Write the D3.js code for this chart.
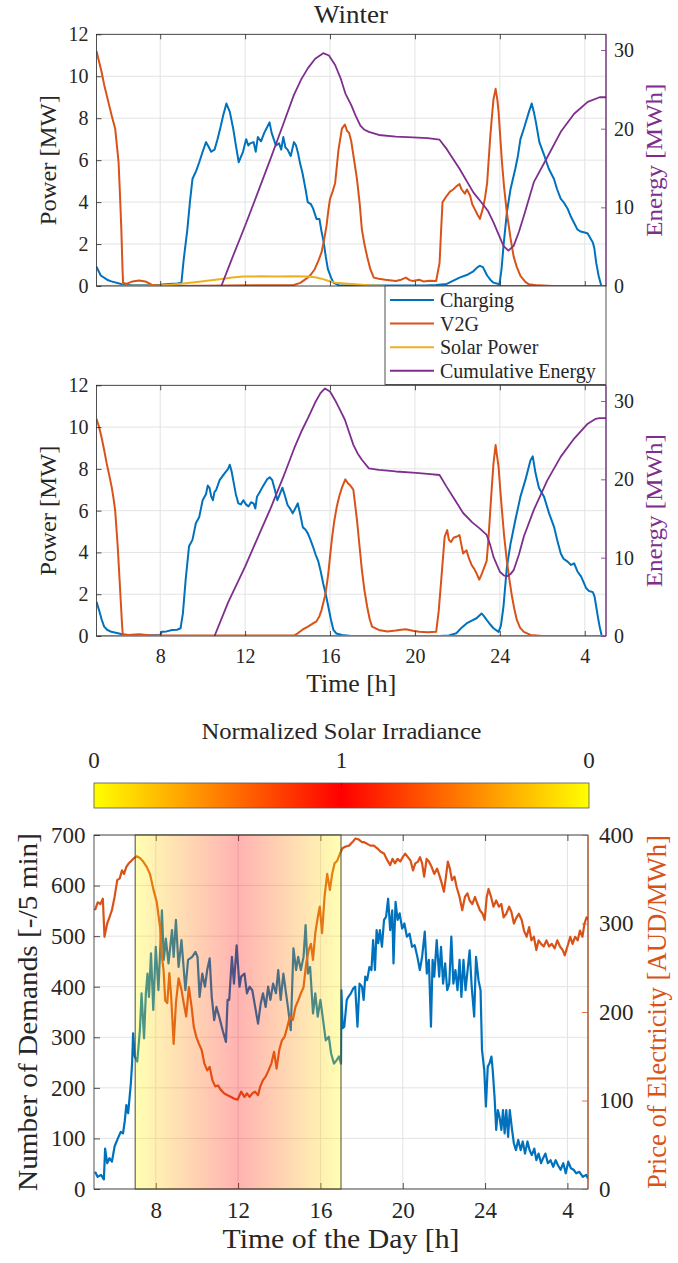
<!DOCTYPE html>
<html>
<head>
<meta charset="utf-8">
<script src="https://cdn.jsdelivr.net/npm/d3@7"></script>
<style>
  body { margin: 0; background: #fff; }
  text { font-family: "Liberation Serif", "DejaVu Serif", serif; fill: #262626; }
</style>
</head>
<body>
<div id="chart"></div>
<script>
// ---- data (hour of day, 5 -> 29 means 5:00 to 5:00 next day) ----
const hourTicks = [8, 12, 16, 20, 24, 28];
const powerTicks = [0, 2, 4, 6, 8, 10, 12];
const energyTicks = [0, 10, 20, 30];
const demandTicks = [0, 100, 200, 300, 400, 500, 600, 700];
const priceTicks = [0, 100, 200, 300, 400];

const legendNames = ["Charging", "V2G", "Solar Power", "Cumulative Energy"];

// top panel (Winter)
const charging1 = [[5.0,0.92],[5.2,0.5],[5.5,0.3],[5.7,0.22],[6.2,0.08],[6.6,0.05],[7.5,0.04],[8.0,0.06],[8.4,0.1],[8.8,0.12],[9.0,0.15],[9.1,1.2],[9.28,2.7],[9.4,4.0],[9.52,5.1],[9.7,5.5],[9.84,5.9],[10.0,6.4],[10.16,6.86],[10.3,6.6],[10.4,6.4],[10.56,6.5],[10.7,7.0],[10.85,7.6],[10.96,8.1],[11.12,8.7],[11.28,8.3],[11.44,7.5],[11.55,6.8],[11.7,5.9],[11.9,6.4],[12.05,7.0],[12.15,6.7],[12.24,6.8],[12.4,6.86],[12.5,6.4],[12.6,7.1],[12.75,6.9],[12.9,7.3],[13.0,7.5],[13.15,7.8],[13.25,7.3],[13.35,7.0],[13.45,6.7],[13.6,6.8],[13.7,6.5],[13.8,7.1],[13.9,6.6],[14.0,6.5],[14.15,6.2],[14.3,6.86],[14.4,6.7],[14.5,6.3],[14.6,5.8],[14.7,5.4],[14.85,4.6],[14.95,4.0],[15.1,3.9],[15.2,3.7],[15.36,3.2],[15.5,3.2],[15.6,2.6],[15.7,2.1],[15.8,1.4],[15.9,0.8],[16.05,0.4],[16.16,0.16],[16.4,0.04],[17,0.02],[20.5,0.02],[21.0,0.05],[21.5,0.1],[22.1,0.4],[22.5,0.55],[22.75,0.7],[22.95,0.9],[23.06,0.96],[23.2,0.9],[23.3,0.7],[23.4,0.5],[23.55,0.3],[23.7,0.16],[23.98,0.08],[24.08,0.8],[24.17,1.9],[24.33,3.5],[24.5,4.6],[24.73,5.6],[24.85,6.2],[24.97,7.0],[25.13,7.5],[25.25,7.9],[25.37,8.3],[25.5,8.7],[25.6,8.3],[25.7,7.8],[25.86,6.86],[26.1,6.2],[26.3,5.6],[26.55,5.1],[26.7,4.6],[26.87,4.15],[27.0,4.0],[27.2,3.67],[27.35,3.3],[27.5,3.0],[27.65,2.7],[27.8,2.6],[28.0,2.55],[28.14,2.5],[28.25,2.3],[28.38,2.07],[28.45,1.8],[28.54,1.1],[28.65,0.5],[28.78,0],[29,0]];
const v2g1 = [[5.0,11.2],[5.12,10.7],[5.24,10.2],[5.36,9.6],[5.48,9.1],[5.6,8.6],[5.72,8.1],[5.88,7.5],[5.96,6.7],[6.04,5.9],[6.1,4.5],[6.17,2.7],[6.22,1.0],[6.25,0.16],[6.4,0.1],[6.7,0.22],[7.0,0.26],[7.3,0.22],[7.6,0.06],[7.8,0.03],[8.5,0.0],[14.3,0.05],[14.6,0.15],[14.95,0.4],[15.1,0.55],[15.28,0.8],[15.45,1.2],[15.6,1.6],[15.72,2.2],[15.84,2.9],[15.92,3.6],[16.0,4.15],[16.12,4.5],[16.24,4.9],[16.32,5.7],[16.4,6.5],[16.48,7.0],[16.56,7.5],[16.7,7.7],[16.8,7.4],[16.9,7.3],[17.0,6.9],[17.15,5.9],[17.27,5.1],[17.4,3.9],[17.5,2.7],[17.62,2.0],[17.75,1.4],[17.9,0.8],[18.06,0.4],[18.3,0.35],[18.6,0.3],[19.1,0.24],[19.35,0.3],[19.57,0.4],[19.75,0.28],[19.9,0.24],[20.2,0.3],[20.4,0.22],[20.7,0.25],[21.0,0.24],[21.16,1.1],[21.23,2.6],[21.3,4.0],[21.5,4.3],[21.65,4.5],[21.8,4.6],[21.95,4.75],[22.1,4.86],[22.2,4.6],[22.35,4.4],[22.45,4.6],[22.6,4.3],[22.7,3.9],[22.8,3.7],[22.95,3.4],[23.06,3.2],[23.2,3.7],[23.3,4.2],[23.4,4.9],[23.54,7.0],[23.62,8.0],[23.7,8.9],[23.8,9.4],[23.88,8.9],[23.94,8.3],[24.02,7.1],[24.1,5.9],[24.2,4.7],[24.33,3.5],[24.5,2.3],[24.65,1.4],[24.8,0.9],[24.97,0.48],[25.2,0.2],[25.37,0.08],[25.8,0.03],[26.5,0],[29,0]];
const solar1 = [[5,0],[8,0.02],[8.5,0.06],[8.9,0.1],[9.4,0.15],[9.84,0.2],[10.3,0.26],[10.8,0.32],[11.4,0.4],[11.9,0.45],[12.7,0.46],[13.5,0.45],[14.3,0.46],[14.95,0.45],[15.3,0.42],[15.6,0.35],[15.9,0.25],[16.24,0.16],[16.7,0.12],[17.2,0.08],[17.8,0.04],[18.5,0.01],[19,0],[29,0]];
const energy1 = [[10.88,0],[11.4,3.6],[12.0,7.66],[12.6,11.9],[13.2,16.2],[13.8,20.6],[14.3,24.3],[14.65,26.3],[14.96,27.7],[15.3,28.9],[15.68,29.6],[15.95,29.3],[16.24,28.1],[16.5,26.4],[16.72,24.5],[17.0,23.0],[17.2,21.7],[17.43,20.4],[17.6,19.9],[17.83,19.6],[18.3,19.2],[19.1,19.0],[19.9,18.9],[20.6,18.8],[21.16,18.6],[21.5,17.4],[22.1,14.9],[22.75,11.9],[23.2,10.4],[23.45,9.5],[23.7,8.1],[23.95,6.5],[24.17,5.1],[24.4,4.5],[24.65,5.1],[24.9,6.9],[25.13,8.9],[25.6,13.2],[26.24,16.4],[26.87,19.6],[27.5,21.9],[28.14,23.4],[28.7,24.0],[29,24.0]];

// second panel
const charging2 = [[5.0,1.64],[5.12,1.24],[5.24,0.8],[5.36,0.45],[5.5,0.3],[5.7,0.2],[6.16,0.1],[6.5,0.05],[7.5,0.03],[8.0,0.05],[8.08,0.2],[8.3,0.22],[8.56,0.29],[8.8,0.3],[8.96,0.37],[9.07,1.08],[9.2,2.7],[9.36,4.3],[9.52,4.6],[9.68,5.4],[9.84,5.7],[10.0,6.5],[10.16,6.8],[10.24,7.2],[10.32,7.1],[10.4,6.7],[10.48,6.5],[10.56,6.9],[10.64,7.0],[10.8,7.46],[11.04,7.8],[11.2,8.0],[11.28,8.2],[11.36,7.9],[11.44,7.46],[11.56,6.8],[11.68,6.35],[11.8,6.3],[11.92,6.5],[12.04,6.3],[12.16,6.2],[12.28,6.4],[12.4,6.35],[12.48,6.1],[12.56,6.67],[12.7,6.9],[12.8,7.1],[12.92,7.3],[13.04,7.5],[13.16,7.6],[13.28,7.46],[13.4,7.0],[13.52,6.5],[13.64,6.8],[13.76,7.1],[13.88,6.7],[14.0,6.27],[14.12,6.1],[14.24,5.87],[14.36,6.1],[14.48,6.35],[14.6,5.8],[14.72,5.2],[14.84,5.1],[14.96,4.9],[15.08,4.6],[15.2,4.27],[15.32,3.9],[15.44,3.6],[15.56,3.1],[15.68,2.5],[15.8,2.0],[15.92,1.4],[16.04,0.8],[16.16,0.29],[16.3,0.12],[16.56,0.05],[17,0],[21.16,0],[21.6,0.03],[21.95,0.13],[22.2,0.4],[22.43,0.6],[22.7,0.75],[22.9,0.85],[23.14,1.08],[23.25,0.95],[23.38,0.77],[23.55,0.55],[23.7,0.37],[23.94,0.2],[24.05,0.5],[24.17,1.4],[24.33,3.3],[24.5,4.4],[24.73,5.55],[24.97,6.67],[25.2,7.46],[25.44,8.4],[25.55,8.6],[25.68,7.8],[25.84,7.1],[26.08,6.67],[26.32,5.87],[26.56,5.2],[26.7,4.6],[26.87,3.95],[27.0,3.7],[27.19,3.56],[27.35,3.4],[27.5,3.48],[27.65,3.1],[27.83,2.84],[28.06,2.3],[28.2,2.15],[28.38,2.1],[28.46,1.9],[28.54,1.4],[28.62,0.9],[28.7,0.45],[28.8,0],[29,0]];
const v2g2 = [[5.0,10.4],[5.12,10.0],[5.24,9.5],[5.36,8.9],[5.48,8.26],[5.6,7.7],[5.72,7.1],[5.8,6.6],[5.88,6.0],[5.95,5.0],[6.0,4.27],[6.07,3.0],[6.13,1.9],[6.2,0.6],[6.24,0.05],[6.5,0.05],[7.0,0.08],[7.5,0.04],[8.0,0.02],[14.3,0.02],[14.48,0.13],[14.7,0.3],[14.96,0.45],[15.2,0.6],[15.36,0.7],[15.5,0.95],[15.6,1.24],[15.76,1.9],[15.84,2.4],[15.92,3.0],[16.0,3.8],[16.1,4.75],[16.2,5.5],[16.32,6.2],[16.44,6.7],[16.56,7.1],[16.72,7.5],[16.85,7.3],[16.96,7.2],[17.1,7.0],[17.17,6.4],[17.27,5.55],[17.4,4.2],[17.5,3.16],[17.62,2.2],[17.75,1.4],[17.87,0.8],[17.98,0.45],[18.3,0.29],[18.7,0.22],[19.1,0.26],[19.35,0.3],[19.57,0.32],[19.9,0.25],[20.2,0.2],[20.6,0.18],[21.0,0.2],[21.12,1.2],[21.24,2.7],[21.4,4.75],[21.52,5.07],[21.6,4.6],[21.7,4.5],[21.82,4.7],[21.95,4.75],[22.1,4.83],[22.2,4.3],[22.27,3.95],[22.43,4.1],[22.55,3.7],[22.67,3.4],[22.8,3.2],[22.9,3.0],[23.03,2.7],[23.12,2.9],[23.22,3.16],[23.38,3.6],[23.46,4.6],[23.54,5.87],[23.62,7.1],[23.7,8.26],[23.8,9.14],[23.87,8.6],[23.94,8.1],[24.02,7.0],[24.1,6.0],[24.2,4.8],[24.33,3.6],[24.45,2.7],[24.57,1.9],[24.68,1.3],[24.8,0.77],[24.95,0.4],[25.13,0.2],[25.44,0.05],[26,0],[29,0]];
const solar2 = [[5,0],[29,0]];
const energy2 = [[10.56,0],[11.2,4.3],[12.0,8.85],[12.6,12.6],[13.2,16.3],[13.8,20.3],[14.32,24.0],[14.65,26.1],[14.96,27.8],[15.3,29.8],[15.55,31.0],[15.76,31.6],[16.0,31.2],[16.24,30.1],[16.5,28.7],[16.7,27.6],[17.1,24.4],[17.3,23.3],[17.5,22.5],[17.83,21.4],[18.3,21.2],[19.1,21.0],[19.9,20.85],[20.6,20.7],[21.16,20.55],[21.48,19.1],[21.9,17.3],[22.27,15.7],[22.7,14.5],[23.06,13.7],[23.38,12.9],[23.55,11.6],[23.7,10.1],[24.0,8.2],[24.2,7.7],[24.37,7.66],[24.5,7.9],[24.65,8.4],[24.9,10.4],[25.13,12.7],[25.6,16.1],[26.24,19.9],[26.87,22.9],[27.5,25.2],[28.14,27.1],[28.5,27.7],[28.7,27.8],[29,27.8]];

// bottom panel: demands per 5 min and electricity price
const demands = [[5.05,34],[5.18,24],[5.34,28],[5.48,19],[5.54,80],[5.64,51],[5.75,61],[5.87,54],[6.0,84],[6.16,100],[6.3,113],[6.41,110],[6.5,136],[6.57,166],[6.66,150],[6.79,209],[6.85,248],[6.9,308],[6.98,262],[7.1,252],[7.23,314],[7.31,387],[7.43,298],[7.52,387],[7.6,426],[7.67,380],[7.77,466],[7.88,354],[8.0,479],[8.13,393],[8.3,551],[8.39,453],[8.49,495],[8.62,446],[8.79,512],[8.87,459],[8.98,532],[9.11,439],[9.25,492],[9.44,393],[9.57,453],[9.77,459],[9.93,469],[10.03,459],[10.13,380],[10.26,426],[10.39,400],[10.5,433],[10.62,456],[10.72,380],[10.84,334],[10.95,360],[11.08,341],[11.25,314],[11.41,291],[11.49,374],[11.57,374],[11.7,459],[11.8,406],[11.93,482],[12.07,400],[12.15,420],[12.31,426],[12.43,387],[12.56,400],[12.69,393],[12.8,367],[12.97,327],[13.1,367],[13.21,387],[13.34,360],[13.46,400],[13.57,374],[13.7,406],[13.84,387],[13.95,433],[14.07,374],[14.2,426],[14.33,387],[14.44,354],[14.56,314],[14.69,476],[14.82,433],[14.92,459],[15.05,433],[15.18,459],[15.28,522],[15.39,426],[15.5,439],[15.64,347],[15.75,387],[15.87,341],[16.0,374],[16.13,334],[16.26,294],[16.41,301],[16.52,268],[16.66,248],[16.79,255],[16.9,262],[17.0,248],[17.02,393],[17.08,318],[17.16,321],[17.28,374],[17.36,380],[17.48,387],[17.6,397],[17.69,400],[17.8,321],[17.9,406],[18.02,400],[18.1,374],[18.18,420],[18.27,413],[18.38,439],[18.48,433],[18.56,492],[18.65,433],[18.73,512],[18.81,486],[18.89,512],[18.99,479],[19.09,532],[19.19,538],[19.29,574],[19.39,512],[19.49,551],[19.55,446],[19.65,568],[19.75,532],[19.85,545],[19.97,515],[20.08,525],[20.2,499],[20.33,505],[20.45,479],[20.58,482],[20.71,459],[20.83,433],[20.94,459],[21.07,509],[21.17,426],[21.27,453],[21.37,321],[21.45,453],[21.53,420],[21.65,492],[21.77,420],[21.86,479],[21.96,406],[22.06,446],[22.16,393],[22.26,406],[22.36,499],[22.46,406],[22.56,433],[22.66,393],[22.76,453],[22.85,380],[22.95,453],[23.05,393],[23.15,433],[23.25,472],[23.35,400],[23.47,341],[23.56,459],[23.68,413],[23.78,393],[23.85,275],[23.96,235],[24.04,163],[24.13,242],[24.21,248],[24.31,262],[24.37,235],[24.46,182],[24.54,117],[24.62,156],[24.7,143],[24.79,117],[24.87,156],[24.95,110],[25.03,156],[25.12,103],[25.2,156],[25.31,117],[25.4,90],[25.5,77],[25.61,97],[25.73,77],[25.83,94],[25.94,70],[26.06,94],[26.16,77],[26.27,67],[26.39,80],[26.49,57],[26.6,70],[26.72,51],[26.82,61],[26.93,70],[27.05,51],[27.18,57],[27.31,44],[27.43,57],[27.54,47],[27.67,38],[27.8,51],[27.92,31],[28.04,54],[28.17,41],[28.3,38],[28.43,31],[28.58,34],[28.75,24],[28.91,28],[29.0,21]];
const prices = [[5.05,315],[5.18,324],[5.31,322],[5.43,328],[5.51,285],[5.64,300],[5.75,307],[5.87,315],[6.0,330],[6.13,349],[6.25,351],[6.36,360],[6.46,356],[6.57,364],[6.69,368],[6.82,371],[6.95,374],[7.08,376],[7.23,374],[7.39,370],[7.56,364],[7.72,356],[7.89,338],[8.05,324],[8.21,296],[8.3,262],[8.38,247],[8.46,213],[8.56,210],[8.66,244],[8.75,217],[8.87,164],[8.98,210],[9.11,238],[9.25,225],[9.36,210],[9.48,195],[9.61,228],[9.74,206],[9.85,183],[9.97,172],[10.1,164],[10.23,157],[10.36,142],[10.5,134],[10.62,138],[10.75,123],[10.89,116],[11.02,117],[11.16,112],[11.33,108],[11.49,106],[11.66,104],[11.82,102],[11.98,101],[12.15,110],[12.31,104],[12.43,108],[12.56,104],[12.69,108],[12.82,110],[12.97,106],[13.08,116],[13.21,123],[13.34,127],[13.48,134],[13.62,142],[13.75,155],[13.87,136],[14.0,157],[14.13,168],[14.26,172],[14.39,183],[14.52,195],[14.66,191],[14.79,206],[14.92,213],[15.05,221],[15.18,228],[15.31,255],[15.43,270],[15.54,277],[15.64,259],[15.75,289],[15.87,307],[15.97,319],[16.08,289],[16.2,330],[16.33,356],[16.46,338],[16.57,356],[16.69,368],[16.82,371],[16.95,379],[17.07,385],[17.23,387],[17.39,388],[17.56,392],[17.7,396],[17.85,395],[18.02,392],[18.1,392],[18.27,390],[18.43,388],[18.6,388],[18.76,385],[18.93,381],[19.09,379],[19.26,371],[19.39,366],[19.5,373],[19.62,368],[19.75,373],[19.88,370],[20.0,375],[20.12,379],[20.25,375],[20.38,371],[20.5,360],[20.61,368],[20.74,370],[20.84,375],[20.94,368],[21.04,353],[21.16,373],[21.27,370],[21.4,364],[21.53,356],[21.67,362],[21.8,353],[21.9,345],[22.0,336],[22.1,353],[22.19,370],[22.29,362],[22.39,349],[22.51,353],[22.62,341],[22.76,330],[22.89,315],[23.02,330],[23.14,334],[23.25,326],[23.38,322],[23.51,330],[23.63,322],[23.75,315],[23.88,311],[23.98,304],[24.08,330],[24.17,339],[24.29,330],[24.41,319],[24.54,326],[24.67,319],[24.79,322],[24.9,307],[25.03,311],[25.17,319],[25.28,313],[25.4,300],[25.53,307],[25.64,311],[25.78,304],[25.89,292],[26.02,285],[26.14,296],[26.25,281],[26.37,285],[26.49,270],[26.6,281],[26.72,277],[26.85,274],[26.98,281],[27.11,274],[27.24,277],[27.38,272],[27.51,281],[27.64,274],[27.77,270],[27.87,264],[28.0,274],[28.14,285],[28.25,277],[28.37,285],[28.5,281],[28.61,292],[28.73,285],[28.83,300],[28.93,307],[29.03,304]];

// daylight window shaded in the bottom panel (hours) and irradiance bar labels
const daylight = [7, 12, 17];
const irradianceLabels = ["0", "1", "0"];

// ---- colours (MATLAB defaults) ----
const C = { blue: "#0072BD", orange: "#D95319", yellow: "#EDB120", purple: "#7E2F8E", axis: "#262626", grid: "#e3e3e3" };

const width = 678, height = 1263;
const svg = d3.select("#chart").append("svg")
    .attr("width", width)
    .attr("height", height);
const defs = svg.append("defs");

const hourFmt = h => (h > 24 ? h - 24 : h);

// text helper: the source uses a wide LaTeX font, so stretch to its measured length
function label(sel, txt, size, len) {
    const t = sel.append("text")
        .style("font-size", size + "px")
        .text(txt);
    if (len) t.attr("textLength", len).attr("lengthAdjust", "spacingAndGlyphs");
    return t;
}

// draws a MATLAB-like box axes with left/right y axes
function drawAxes(cfg) {
    const g = svg.append("g");
    const x = d3.scaleLinear().domain([5, 29]).range([cfg.left, cfg.right]);
    const yL = d3.scaleLinear().domain(cfg.yLDomain).range([cfg.bottom, cfg.top]);
    const yR = d3.scaleLinear().domain(cfg.yRDomain).range([cfg.bottom, cfg.top]);
    const w = cfg.right - cfg.left, h = cfg.bottom - cfg.top;

    // grid
    g.append("g").selectAll("line").data(hourTicks).join("line")
        .attr("x1", d => x(d)).attr("x2", d => x(d))
        .attr("y1", cfg.top).attr("y2", cfg.bottom)
        .attr("stroke", C.grid).attr("stroke-width", 1);
    g.append("g").selectAll("line").data(cfg.yLTicks).join("line")
        .attr("x1", cfg.left).attr("x2", cfg.right)
        .attr("y1", d => yL(d)).attr("y2", d => yL(d))
        .attr("stroke", C.grid).attr("stroke-width", 1);

    const clipId = "clip" + cfg.id;
    defs.append("clipPath").attr("id", clipId)
        .append("rect").attr("x", cfg.left).attr("y", cfg.top - 2).attr("width", w).attr("height", h + 2);
    const plot = g.append("g").attr("clip-path", `url(#${clipId})`);

    return { g, plot, x, yL, yR, w, h };
}

function finishAxes(ax, cfg) {
    const { g, x, yL, yR } = ax;
    const tick = cfg.tick || 5;
    g.append("rect")
        .attr("x", cfg.left).attr("y", cfg.top)
        .attr("width", ax.w).attr("height", ax.h)
        .attr("fill", "none").attr("stroke", C.axis).attr("stroke-width", 0.8);

    const styleAxis = (sel, color, fontSize) => {
        sel.select(".domain").remove();
        sel.selectAll(".tick line").attr("stroke", color).attr("stroke-width", 0.8);
        sel.selectAll(".tick text").attr("fill", color)
            .style("font-size", fontSize + "px")
            .style("font-family", "'Liberation Serif', 'DejaVu Serif', serif");
    };

    // bottom & top x ticks
    const xb = g.append("g").attr("transform", `translate(0,${cfg.bottom})`)
        .call(d3.axisBottom(x).tickValues(hourTicks).tickSize(-tick).tickSizeOuter(0)
            .tickPadding(cfg.xPad || 13).tickFormat(cfg.xLabels ? hourFmt : () => ""));
    styleAxis(xb, C.axis, cfg.tickFont);
    const xt = g.append("g").attr("transform", `translate(0,${cfg.top})`)
        .call(d3.axisTop(x).tickValues(hourTicks).tickSize(-tick).tickSizeOuter(0).tickFormat(() => ""));
    styleAxis(xt, C.axis, cfg.tickFont);

    // left axis
    const yl = g.append("g").attr("transform", `translate(${cfg.left},0)`)
        .call(d3.axisLeft(yL).tickValues(cfg.yLTicks).tickSize(-tick).tickSizeOuter(0).tickPadding(cfg.yPad || 8));
    styleAxis(yl, C.axis, cfg.tickFont);

    // right axis, coloured
    const yr = g.append("g").attr("transform", `translate(${cfg.right},0)`)
        .call(d3.axisRight(yR).tickValues(cfg.yRTicks).tickSize(-tick).tickSizeOuter(0).tickPadding(cfg.yRPad || 8));
    styleAxis(yr, cfg.rightColor, cfg.tickFont);
    g.append("line")
        .attr("x1", cfg.right).attr("x2", cfg.right)
        .attr("y1", cfg.top).attr("y2", cfg.bottom)
        .attr("stroke", cfg.rightColor).attr("stroke-width", 1);

    // labels
    const midY = (cfg.top + cfg.bottom) / 2;
    label(g, cfg.yLabel, cfg.labelFont, cfg.yLabelLen)
        .attr("transform", `translate(${cfg.yLabelX},${midY}) rotate(-90)`)
        .attr("text-anchor", "middle");
    label(g, cfg.yRLabel, cfg.labelFont, cfg.yRLabelLen)
        .attr("transform", `translate(${cfg.yRLabelX},${midY}) rotate(-90)`)
        .attr("text-anchor", "middle")
        .style("fill", cfg.rightColor);
    if (cfg.xLabel) {
        label(g, cfg.xLabel, cfg.xLabelFont || cfg.labelFont, cfg.xLabelLen)
            .attr("x", (cfg.left + cfg.right) / 2).attr("y", cfg.xLabelY)
            .attr("text-anchor", "middle");
    }
}

function addLine(ax, data, y, color, lw) {
    ax.plot.append("path")
        .datum(data)
        .attr("fill", "none")
        .attr("stroke", color)
        .attr("stroke-width", lw)
        .attr("stroke-linejoin", "round")
        .attr("d", d3.line().x(d => ax.x(d[0])).y(d => y(d[1])));
}

// ---- power panels ----
const powerPanels = [
    { id: 1, top: 34.3, bottom: 286, charging: charging1, v2g: v2g1, solar: solar1, energy: energy1, xLabels: false },
    { id: 2, top: 385.3, bottom: 636, charging: charging2, v2g: v2g2, solar: solar2, energy: energy2, xLabels: true, xLabel: "Time [h]" }
];

powerPanels.forEach(p => {
    const cfg = {
        id: p.id, left: 96.5, right: 606, top: p.top, bottom: p.bottom,
        yLDomain: [0, 12], yRDomain: [0, 32], yLTicks: powerTicks, yRTicks: energyTicks,
        rightColor: C.purple, tickFont: 20, labelFont: 24,
        xLabels: p.xLabels, xPad: 13, yLabel: "Power [MW]", yRLabel: "Energy [MWh]",
        yLabelLen: 130, yRLabelLen: 153,
        yLabelX: 56, yRLabelX: 662, xLabel: p.xLabel, xLabelY: 692, xLabelFont: 25, xLabelLen: 90
    };
    const ax = drawAxes(cfg);
    addLine(ax, p.charging, ax.yL, C.blue, 2);
    addLine(ax, p.v2g, ax.yL, C.orange, 2);
    addLine(ax, p.solar, ax.yL, C.yellow, 2);
    addLine(ax, p.energy, ax.yR, C.purple, 1.8);
    finishAxes(ax, cfg);
});

label(svg, "Winter", 25, 74)
    .attr("x", 351).attr("y", 23)
    .attr("text-anchor", "middle");

// legend
const legendColors = [C.blue, C.orange, C.yellow, C.purple];
const leg = svg.append("g");
leg.append("rect")
    .attr("x", 385).attr("y", 286).attr("width", 221).attr("height", 98.5)
    .attr("fill", "#fff").attr("stroke", C.axis).attr("stroke-width", 0.8);
const legY = d3.scalePoint().domain(legendNames).range([300, 370.7]);
legendNames.forEach((name, i) => {
    leg.append("line")
        .attr("x1", 390).attr("x2", 434)
        .attr("y1", legY(name)).attr("y2", legY(name))
        .attr("stroke", legendColors[i]).attr("stroke-width", 2);
    leg.append("text")
        .attr("x", 440).attr("y", legY(name))
        .attr("dy", "0.35em")
        .style("font-size", "20px")
        .text(name);
});

// ---- irradiance colour bar ----
const cbLeft = 94, cbRight = 589, cbTop = 783, cbBottom = 808;
const cbGrad = defs.append("linearGradient").attr("id", "cbGrad");
[[0, "#ffff00"], [0.5, "#ff0000"], [1, "#ffff00"]].forEach(s =>
    cbGrad.append("stop").attr("offset", s[0]).attr("stop-color", s[1]));
svg.append("rect")
    .attr("x", cbLeft).attr("y", cbTop)
    .attr("width", cbRight - cbLeft).attr("height", cbBottom - cbTop)
    .attr("fill", "url(#cbGrad)").attr("stroke", "#555").attr("stroke-width", 0.8);
const cbX = d3.scalePoint().domain(d3.range(irradianceLabels.length)).range([cbLeft, cbRight]);
svg.append("line")
    .attr("x1", cbX(1)).attr("x2", cbX(1)).attr("y1", cbTop).attr("y2", cbTop + 5)
    .attr("stroke", "#333").attr("stroke-width", 0.8);
irradianceLabels.forEach((t, i) => {
    svg.append("text")
        .attr("x", cbX(i)).attr("y", 768)
        .attr("text-anchor", "middle")
        .style("font-size", "23px")
        .text(t);
});
label(svg, "Normalized Solar Irradiance", 23, 280)
    .attr("x", (cbLeft + cbRight) / 2).attr("y", 739)
    .attr("text-anchor", "middle");

// ---- demand / price panel ----
const cfg3 = {
    id: 3, left: 94, right: 588, top: 835, bottom: 1189,
    yLDomain: [0, 700], yRDomain: [0, 400], yLTicks: demandTicks, yRTicks: priceTicks,
    rightColor: C.orange, tickFont: 23, labelFont: 27, tick: 6,
    xLabels: true, xPad: 12.5, yPad: 8.5, yRPad: 11,
    yLabel: "Number of Demands [-/5 min]", yRLabel: "Price of Electricity [AUD/MWh]",
    yLabelLen: 358, yRLabelLen: 354,
    yLabelX: 37, yRLabelX: 666, xLabel: "Time of the Day [h]", xLabelY: 1248, xLabelLen: 237
};
const ax3 = drawAxes(cfg3);
addLine(ax3, demands, ax3.yL, C.blue, 2.2);
addLine(ax3, prices, ax3.yR, C.orange, 2.2);

// daylight shading drawn over the lines, like the transparent patch in the source
const shadeGrad = defs.append("linearGradient").attr("id", "shadeGrad");
[[0, "#ffff00"], [0.5, "#ff0000"], [1, "#ffff00"]].forEach(s =>
    shadeGrad.append("stop").attr("offset", s[0]).attr("stop-color", s[1]));
const sx0 = ax3.x(daylight[0]), sx1 = ax3.x(daylight[2]);
svg.append("rect")
    .attr("x", sx0).attr("y", cfg3.top)
    .attr("width", sx1 - sx0).attr("height", cfg3.bottom - cfg3.top)
    .attr("fill", "url(#shadeGrad)").attr("opacity", 0.3);
svg.append("rect")
    .attr("x", sx0).attr("y", cfg3.top)
    .attr("width", sx1 - sx0).attr("height", cfg3.bottom - cfg3.top)
    .attr("fill", "none").attr("stroke", "#4a4a3a").attr("stroke-width", 1);
finishAxes(ax3, cfg3);
</script>
</body>
</html>
